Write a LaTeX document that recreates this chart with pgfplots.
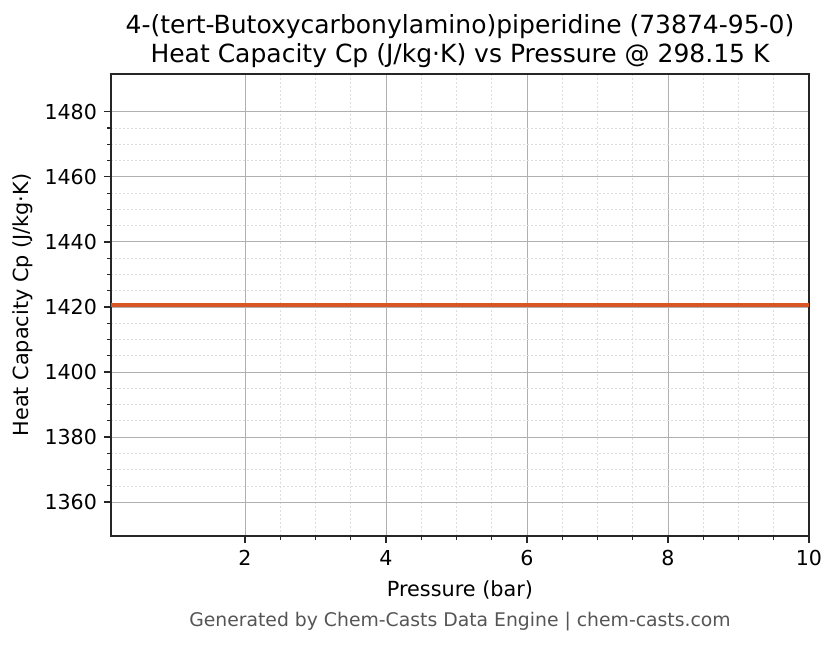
\documentclass[border=0pt]{standalone}
\usepackage{pgfplots}
\pgfplotsset{compat=1.18}
\usepackage{fontspec}
\setmainfont{DejaVu Sans}
\definecolor{linecp}{HTML}{D95525}
\definecolor{gridmaj}{HTML}{B0B0B0}
\definecolor{gridmin}{HTML}{DDDDDD}
\definecolor{frame}{HTML}{262626}
\definecolor{foot}{HTML}{555555}
\begin{document}
\begin{tikzpicture}
\begin{axis}[
    scale only axis,
    width=349pt, height=231pt,
    xmin=0.1, xmax=10,
    ymin=1349.57, ymax=1491.63,
    xtick={2,4,6,8,10},
    ytick={1360,1380,...,1480},
    minor x tick num=3,
    minor y tick num=3,
    tick align=outside,
    xtick pos=bottom, ytick pos=left,
    major tick length=3.5pt, minor tick length=2pt,
    every tick/.style={frame, line width=0.6pt},
    axis line style={frame, line width=0.9pt},
    grid=both,
    major grid style={gridmaj, line width=0.45pt},
    minor grid style={gridmin, line width=0.3pt, dash pattern=on 1pt off 1pt},
    /pgf/number format/assume math mode=true,
    /pgf/number format/1000 sep={},
    tick label style={font=\fontsize{10.3}{12}\selectfont},
    label style={font=\fontsize{10.4}{12}\selectfont},
    xlabel={Pressure (bar)},
    ylabel={Heat Capacity Cp (J/kg·K)},
    xlabel style={yshift=-0.5pt},
    ylabel style={yshift=-1pt},
    title style={font=\fontsize{12.5}{14.5}\selectfont, align=center, yshift=-6.5pt},
    title={4-(tert-Butoxycarbonylamino)piperidine (73874-95-0)\\Heat Capacity Cp (J/kg·K) vs Pressure @ 298.15 K},
]
\addplot[linecp, line width=2pt] coordinates {
    (0.1, 1420.6) (1, 1420.6) (2, 1420.6) (3, 1420.6) (4, 1420.6)
    (5, 1420.6) (6, 1420.6) (7, 1420.6) (8, 1420.6) (9, 1420.6) (10, 1420.6)
};
\end{axis}
\node[font=\fontsize{9.4}{11}\selectfont, text=foot] at (174.5pt,-43pt) {Generated by Chem-Casts Data Engine | chem-casts.com};
\pgfresetboundingbox
\useasboundingbox (-55.5pt,-54pt) rectangle (362.5pt,268pt);
\end{tikzpicture}
\end{document}
